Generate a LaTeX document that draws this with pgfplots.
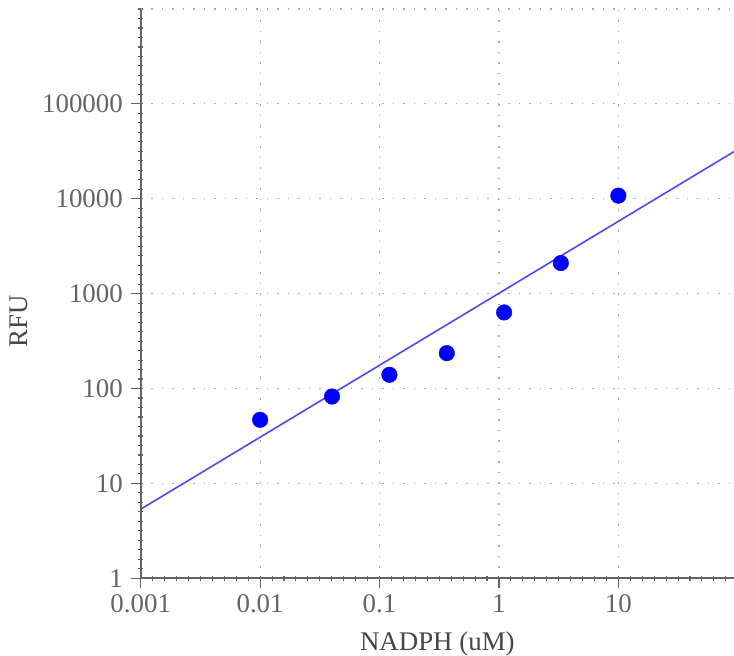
\documentclass[border=0pt]{standalone}
\usepackage{pgfplots}
\pgfplotsset{compat=1.18}
\usepackage{fontspec}
\setmainfont{Liberation Serif}
\definecolor{axgray}{RGB}{100,100,100}
\definecolor{txtgray}{RGB}{100,100,100}
\definecolor{labgray}{RGB}{70,70,70}
\definecolor{gridgray}{RGB}{170,170,170}
\definecolor{fitblue}{RGB}{75,75,245}
\begin{document}
\begin{tikzpicture}
% uniform minor ticks (in log space), as in the reference
\begin{axis}[
 scale only axis, width=593.3bp, height=569.3bp,
 xmin=-3, xmax=1.9685, ymin=0, ymax=6,
 axis lines=left, axis line style={draw=none},
 xtick={-3,-2.9,...,1.95}, ytick={0,0.1,...,6.05},
 xticklabels=\empty, yticklabels=\empty,
 tick align=center, major tick length=5bp,
 tick style={axgray, line width=1.1bp},
]
\end{axis}
\begin{axis}[
 scale only axis, width=593.3bp, height=569.3bp,
 xmode=log, ymode=log,
 xmin=0.001, xmax=93, ymin=1, ymax=1e6,
 axis lines=left, axis line style={axgray, line width=1.7bp, -},
 xtick={0.001,0.01,0.1,1,10}, xticklabels={0.001,0.01,0.1,1,10},
 ytick={1,10,100,1000,10000,100000}, yticklabels={1,10,100,1000,10000,100000},
 extra y ticks={1000000}, extra y tick labels={},
 extra y tick style={major tick length=0bp, grid=major},
 minor tick length=0bp,
 tick align=outside, major tick length=10bp,
 tick style={axgray, line width=1.2bp},
 grid=major, major grid style={gridgray, line width=1.2bp, dash pattern=on 1.5bp off 9bp},
 ticklabel style={font=\fontsize{27}{32}\selectfont, text=txtgray, inner sep=2bp},
 xticklabel style={yshift=-4.5bp},
 yticklabel style={xshift=-5.7bp},
 /pgf/number format/assume math mode=true,
 xlabel={NADPH (uM)}, ylabel={RFU},
 every axis x label/.style={at={(rel axis cs:0.5,-0.126)}, anchor=base, font=\fontsize{27}{32}\selectfont, text=labgray},
 every axis y label/.style={at={(rel axis cs:-0.2051,0.452)}, anchor=center, rotate=90, font=\fontsize{27}{32}\selectfont, text=labgray},
 clip=true,
]
\addplot[fitblue, line width=1.6bp] coordinates {(0.001,5.35)(93,31400)};
\addplot[blue, only marks, mark=*, mark size=7.8bp] coordinates {(0.01,46.8)(0.04,82.4)(0.121,139.5)(0.366,236)(1.105,634)(3.3,2102)(10,10790)};
\end{axis}
\pgfresetboundingbox
\path ([xshift=-140.7bp,yshift=-77.7bp]current axis.south west) rectangle ([yshift=9bp]current axis.north east);
\end{tikzpicture}
\end{document}
